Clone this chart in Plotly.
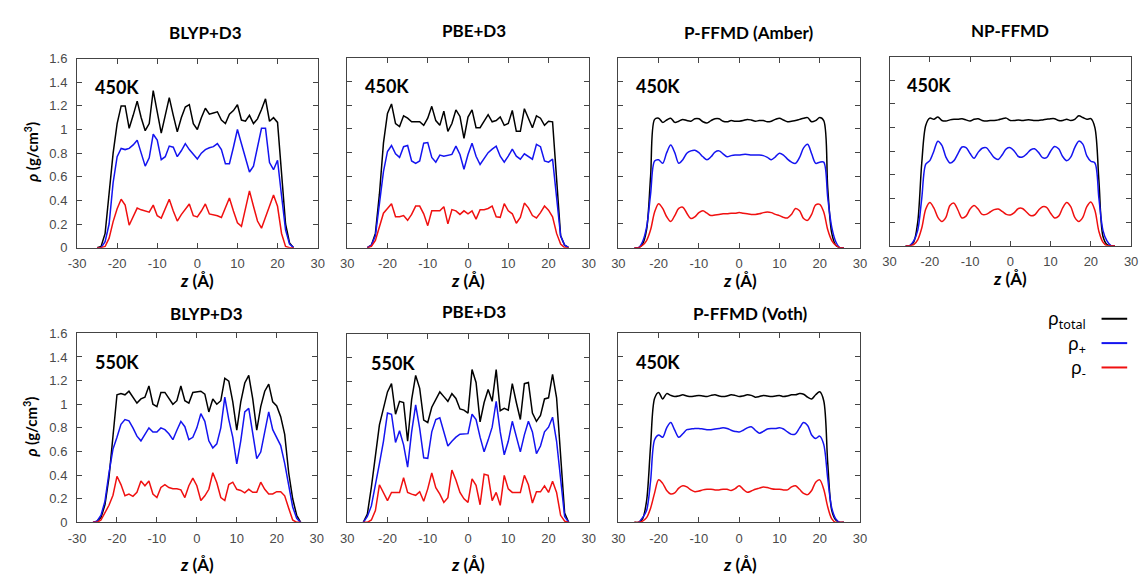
import plotly.graph_objects as go

W, H = 1147, 582

# ---------------- density profiles (z in Å, rho in g/cm^3) ----------------
# BLYP+D3, 450K
z_blyp450 = list(range(-25, 25))
tot_blyp450 = [0, 0.01, 0.12, 0.45, 0.8, 1.05, 1.2, 1.2, 1.01, 1.12, 1.24, 1.1, 0.99, 1.05, 1.33, 1.15, 0.97,
               1.12, 1.27, 1.12, 0.98, 1.1, 1.19, 1.21, 1.05, 1.0, 1.1, 1.18, 1.13, 1.14, 1.15, 1.08, 1.05,
               1.13, 1.16, 1.21, 1.08, 1.07, 1.12, 1.05, 1.09, 1.17, 1.26, 1.07, 1.1, 1.06, 0.62, 0.2, 0.04, 0]
pos_blyp450 = [0, 0, 0.05, 0.2, 0.55, 0.77, 0.84, 0.83, 0.84, 0.87, 0.91, 0.8, 0.69, 0.76, 0.96, 0.91, 0.745,
               0.77, 0.86, 0.85, 0.77, 0.82, 0.88, 0.83, 0.79, 0.75, 0.8, 0.83, 0.845, 0.855, 0.88, 0.83, 0.71,
               0.71, 0.85, 1.0, 0.88, 0.76, 0.64, 0.69, 0.85, 1.01, 1.01, 0.72, 0.66, 0.74, 0.44, 0.15, 0.03, 0]
neg_blyp450 = [0, 0, 0.01, 0.08, 0.22, 0.33, 0.41, 0.36, 0.19, 0.26, 0.335, 0.32, 0.31, 0.30, 0.36, 0.27, 0.25,
               0.33, 0.41, 0.31, 0.225, 0.28, 0.33, 0.37, 0.27, 0.26, 0.31, 0.37, 0.285, 0.28, 0.27, 0.255, 0.34,
               0.42, 0.31, 0.21, 0.18, 0.33, 0.48, 0.35, 0.225, 0.165, 0.26, 0.35, 0.445, 0.35, 0.12, 0.01, 0, 0]

# PBE+D3, 450K
z_pbe450 = list(range(-25, 26))
tot_pbe450 = [0, 0.02, 0.12, 0.45, 0.88, 1.13, 1.21, 1.045, 1.02, 1.11, 1.09, 1.06, 1.06, 1.06, 1.03, 1.09, 1.19,
              1.07, 1.03, 1.15, 0.98, 1.045, 1.16, 1.105, 0.92, 1.10, 1.16, 1.01, 1.01, 1.07, 1.12, 1.06, 1.07,
              1.10, 1.03, 1.045, 1.155, 0.98, 0.98, 1.17, 1.09, 1.01, 1.11, 1.09, 1.03, 1.065, 1.06, 0.55, 0.1,
              0.02, 0]
pos_pbe450 = [0, 0.02, 0.1, 0.36, 0.64, 0.81, 0.86, 0.79, 0.76, 0.85, 0.86, 0.73, 0.71, 0.73, 0.88, 0.885, 0.76,
              0.72, 0.78, 0.77, 0.78, 0.785, 0.855, 0.785, 0.66, 0.785, 0.88, 0.77, 0.70, 0.75, 0.80, 0.83, 0.855,
              0.77, 0.72, 0.77, 0.83, 0.77, 0.745, 0.79, 0.77, 0.745, 0.87, 0.85, 0.73, 0.72, 0.745, 0.42, 0.1,
              0.02, 0]
neg_pbe450 = [0, 0.01, 0.06, 0.17, 0.29, 0.33, 0.37, 0.26, 0.26, 0.27, 0.23, 0.28, 0.35, 0.35, 0.285, 0.185, 0.31,
              0.31, 0.31, 0.345, 0.2, 0.32, 0.31, 0.28, 0.31, 0.285, 0.31, 0.24, 0.32, 0.32, 0.33, 0.35, 0.26,
              0.255, 0.37, 0.31, 0.285, 0.205, 0.255, 0.375, 0.335, 0.27, 0.25, 0.295, 0.35, 0.315, 0.26, 0.12,
              0.03, 0, 0]

# P-FFMD (Amber), 450K
z_amber = list(range(-26, 27))
tot_amber = [0, 0, 0.03, 0.15, 0.6, 1.08, 1.09, 1.055, 1.075, 1.09, 1.055, 1.065, 1.08, 1.07, 1.065, 1.085, 1.085,
             1.06, 1.05, 1.07, 1.085, 1.085, 1.065, 1.06, 1.07, 1.065, 1.065, 1.07, 1.08, 1.075, 1.065, 1.07,
             1.07, 1.06, 1.065, 1.08, 1.09, 1.075, 1.06, 1.065, 1.07, 1.08, 1.09, 1.095, 1.06, 1.07, 1.095, 1.07,
             0.5, 0.12, 0.02, 0, 0]
pos_amber = [0, 0, 0.05, 0.17, 0.45, 0.73, 0.74, 0.71, 0.8, 0.865, 0.8, 0.71, 0.74, 0.795, 0.815, 0.82, 0.80,
             0.765, 0.74, 0.765, 0.805, 0.815, 0.79, 0.765, 0.775, 0.78, 0.78, 0.785, 0.785, 0.78, 0.78, 0.78,
             0.775, 0.76, 0.74, 0.765, 0.795, 0.78, 0.745, 0.72, 0.71, 0.76, 0.84, 0.87, 0.79, 0.71, 0.72, 0.72,
             0.42, 0.17, 0.05, 0, 0]
neg_amber = [0, 0, 0.02, 0.06, 0.15, 0.3, 0.37, 0.33, 0.26, 0.22, 0.27, 0.33, 0.34, 0.29, 0.245, 0.26, 0.295,
             0.31, 0.29, 0.27, 0.275, 0.28, 0.285, 0.285, 0.29, 0.29, 0.295, 0.29, 0.285, 0.28, 0.28, 0.285,
             0.295, 0.30, 0.295, 0.28, 0.27, 0.255, 0.25, 0.28, 0.33, 0.31, 0.245, 0.23, 0.28, 0.36, 0.365, 0.3,
             0.15, 0.06, 0.02, 0, 0]

# NP-FFMD, 450K
z_np = list(range(-26, 27))
tot_np = [0, 0, 0.03, 0.2, 0.7, 1.02, 1.08, 1.07, 1.09, 1.06, 1.055, 1.065, 1.07, 1.07, 1.075, 1.065, 1.055,
          1.07, 1.075, 1.06, 1.055, 1.06, 1.06, 1.065, 1.075, 1.08, 1.06, 1.06, 1.065, 1.06, 1.065, 1.065,
          1.06, 1.06, 1.065, 1.07, 1.075, 1.075, 1.06, 1.06, 1.07, 1.06, 1.07, 1.1, 1.085, 1.07, 1.075, 1.0,
          0.55, 0.08, 0.01, 0, 0]
pos_np = [0, 0, 0.04, 0.13, 0.4, 0.69, 0.72, 0.8, 0.885, 0.85, 0.75, 0.70, 0.72, 0.78, 0.835, 0.83, 0.78,
          0.74, 0.79, 0.825, 0.83, 0.79, 0.745, 0.73, 0.77, 0.82, 0.83, 0.8, 0.755, 0.75, 0.775, 0.81, 0.82,
          0.79, 0.745, 0.745, 0.8, 0.84, 0.82, 0.755, 0.72, 0.75, 0.83, 0.885, 0.86, 0.76, 0.715, 0.7, 0.4,
          0.13, 0.04, 0, 0]
neg_np = [0, 0, 0.01, 0.05, 0.15, 0.31, 0.365, 0.32, 0.24, 0.205, 0.24, 0.34, 0.36, 0.3, 0.235, 0.25, 0.31,
          0.34, 0.31, 0.265, 0.265, 0.285, 0.305, 0.31, 0.29, 0.265, 0.26, 0.28, 0.315, 0.315, 0.285, 0.255,
          0.26, 0.3, 0.33, 0.325, 0.275, 0.235, 0.25, 0.32, 0.365, 0.33, 0.24, 0.205, 0.24, 0.33, 0.37, 0.3,
          0.12, 0.03, 0, 0, 0]

# BLYP+D3, 550K
z_blyp550 = list(range(-26, 27))
tot_blyp550 = [0, 0.01, 0.04, 0.15, 0.38, 0.72, 1.08, 1.09, 1.08, 1.11, 1.055, 1.01, 1.045, 1.06, 1.155, 1.0, 0.98,
               1.10, 1.10, 1.045, 1.0, 1.03, 1.155, 1.03, 1.01, 1.10, 1.105, 1.11, 1.085, 0.935, 1.045, 1.0, 1.03,
               1.22, 1.195, 1.02, 0.78, 1.02, 1.18, 1.245, 1.045, 0.78, 0.98, 1.11, 1.17, 1.02, 0.985, 0.895,
               0.745, 0.42, 0.2, 0.06, 0]
pos_blyp550 = [0, 0.01, 0.06, 0.18, 0.42, 0.62, 0.72, 0.83, 0.87, 0.86, 0.80, 0.73, 0.69, 0.745, 0.80, 0.765,
               0.765, 0.80, 0.785, 0.75, 0.70, 0.78, 0.855, 0.81, 0.70, 0.72, 0.80, 0.92, 0.855, 0.69, 0.63, 0.665,
               0.80, 1.06, 0.87, 0.72, 0.495, 0.69, 0.935, 0.965, 0.77, 0.54, 0.595, 0.77, 0.935, 0.785, 0.72,
               0.65, 0.50, 0.31, 0.13, 0.035, 0]
neg_blyp550 = [0, 0, 0.02, 0.08, 0.145, 0.23, 0.39, 0.32, 0.225, 0.24, 0.22, 0.255, 0.35, 0.31, 0.35, 0.24, 0.21,
               0.295, 0.32, 0.295, 0.285, 0.285, 0.275, 0.21, 0.31, 0.375, 0.31, 0.185, 0.225, 0.28, 0.42, 0.335,
               0.21, 0.185, 0.32, 0.34, 0.28, 0.27, 0.25, 0.28, 0.255, 0.255, 0.34, 0.28, 0.24, 0.24, 0.26, 0.26,
               0.225, 0.12, 0.02, 0, 0]

# PBE+D3, 550K
z_pbe550 = list(range(-26, 26))
tot_pbe550 = [0, 0.07, 0.3, 0.57, 0.83, 0.97, 1.11, 1.18, 0.92, 1.03, 1.02, 0.69, 1.045, 1.25, 1.14, 0.87, 0.85,
              0.98, 1.045, 1.11, 1.07, 1.03, 1.095, 1.055, 0.965, 0.955, 0.93, 1.30, 1.19, 0.855, 1.02, 1.13, 1.03,
              1.30, 0.95, 0.97, 0.955, 1.18, 1.02, 0.875, 1.18, 1.19, 0.93, 0.86, 0.91, 1.05, 1.06, 1.26, 1.06,
              0.55, 0.08, 0]
pos_pbe550 = [0, 0.05, 0.14, 0.31, 0.50, 0.69, 0.93, 0.92, 0.68, 0.78, 0.66, 0.47, 0.77, 1.0, 0.80, 0.55, 0.545,
              0.77, 0.875, 0.89, 0.77, 0.65, 0.69, 0.725, 0.75, 0.755, 0.755, 0.92, 0.875, 0.725, 0.60, 0.70, 0.81,
              1.03, 0.77, 0.575, 0.69, 0.86, 0.73, 0.60, 0.745, 0.86, 0.77, 0.585, 0.65, 0.77, 0.81, 0.895, 0.69,
              0.36, 0.05, 0]
neg_pbe550 = [0, 0, 0.02, 0.1, 0.32, 0.255, 0.185, 0.255, 0.255, 0.255, 0.38, 0.255, 0.24, 0.23, 0.26, 0.18, 0.285,
              0.42, 0.295, 0.24, 0.17, 0.21, 0.445, 0.36, 0.255, 0.20, 0.17, 0.37, 0.315, 0.15, 0.41, 0.40, 0.185,
              0.255, 0.145, 0.40, 0.285, 0.255, 0.255, 0.255, 0.40, 0.32, 0.165, 0.26, 0.26, 0.31, 0.255, 0.35,
              0.255, 0.06, 0.01, 0]

# P-FFMD (Voth), 450K
z_voth = list(range(-26, 27))
tot_voth = [0, 0, 0.03, 0.18, 0.65, 1.05, 1.1, 1.045, 1.09, 1.075, 1.065, 1.07, 1.08, 1.07, 1.065, 1.07, 1.075,
            1.07, 1.065, 1.075, 1.08, 1.07, 1.065, 1.07, 1.08, 1.075, 1.065, 1.07, 1.08, 1.075, 1.06, 1.065,
            1.075, 1.07, 1.065, 1.07, 1.075, 1.065, 1.07, 1.08, 1.08, 1.09, 1.085, 1.06, 1.045, 1.08, 1.105,
            1.03, 0.5, 0.1, 0.02, 0, 0]
pos_voth = [0, 0, 0.04, 0.1, 0.35, 0.7, 0.74, 0.72, 0.8, 0.845, 0.78, 0.72, 0.75, 0.785, 0.79, 0.795, 0.795,
            0.79, 0.785, 0.785, 0.79, 0.795, 0.80, 0.795, 0.78, 0.77, 0.765, 0.78, 0.80, 0.81, 0.78, 0.755,
            0.77, 0.79, 0.795, 0.795, 0.80, 0.79, 0.765, 0.745, 0.75, 0.8, 0.845, 0.82, 0.74, 0.71, 0.73, 0.66,
            0.37, 0.12, 0.03, 0, 0]
neg_voth = [0, 0, 0.01, 0.04, 0.12, 0.25, 0.36, 0.33, 0.27, 0.24, 0.25, 0.29, 0.31, 0.3, 0.275, 0.26, 0.265,
            0.275, 0.28, 0.28, 0.275, 0.275, 0.28, 0.28, 0.27, 0.285, 0.31, 0.28, 0.255, 0.265, 0.28, 0.29,
            0.3, 0.295, 0.285, 0.28, 0.28, 0.275, 0.275, 0.3, 0.31, 0.28, 0.245, 0.235, 0.27, 0.34, 0.36, 0.28,
            0.13, 0.03, 0, 0, 0]

# ---------------- axis ticks ----------------
x_ticks = [-30, -20, -10, 0, 10, 20, 30]
x_labels_full = ["-30", "-20", "-10", "0", "10", "20", "30"]
x_labels_cut = ["30", "-20", "-10", "0", "10", "20", "30"]
y_ticks = [0, 0.2, 0.4, 0.6, 0.8, 1.0, 1.2, 1.4, 1.6]
y_labels = ["0", "0.2", "0.4", "0.6", "0.8", "1", "1.2", "1.4", "1.6"]

# ---------------- panel table ----------------
# box = (left, top, right, bottom) in pixels; title_xy = title centre in pixels
panels = [
    dict(title="BLYP+D3", temp="450K", z=z_blyp450, tot=tot_blyp450, pos=pos_blyp450, neg=neg_blyp450,
         box=(69, 53, 313, 247), title_xy=(199, 26), xt_xy=(191, 281), smooth=False, ylab=True, temp_x=-26.1),
    dict(title="PBE+D3", temp="450K", z=z_pbe450, tot=tot_pbe450, pos=pos_pbe450, neg=neg_pbe450,
         box=(343, 52, 588, 247), title_xy=(472, 24), xt_xy=(466, 281), smooth=False, ylab=False, temp_x=-26.1),
    dict(title="P-FFMD (Amber)", temp="450K", z=z_amber, tot=tot_amber, pos=pos_amber, neg=neg_amber,
         box=(618, 52, 863, 247), title_xy=(750, 26), xt_xy=(741, 281), smooth=True, ylab=False, temp_x=-26.1),
    dict(title="NP-FFMD", temp="450K", z=z_np, tot=tot_np, pos=pos_np, neg=neg_np,
         box=(893, 51, 1138, 245), title_xy=(1015, 24), xt_xy=(1015, 279), smooth=True, ylab=False, temp_x=-26.1),
    dict(title="BLYP+D3", temp="550K", z=z_blyp550, tot=tot_blyp550, pos=pos_blyp550, neg=neg_blyp550,
         box=(69, 335, 312, 529), title_xy=(200, 315), xt_xy=(191, 572), smooth=False, ylab=True, temp_x=-26.1),
    dict(title="PBE+D3", temp="550K", z=z_pbe550, tot=tot_pbe550, pos=pos_pbe550, neg=neg_pbe550,
         box=(343, 336, 588, 529), title_xy=(472, 313), xt_xy=(466, 572), smooth=False, ylab=False, temp_x=-24.6),
    dict(title="P-FFMD (Voth)", temp="450K", z=z_voth, tot=tot_voth, pos=pos_voth, neg=neg_voth,
         box=(618, 335, 863, 529), title_xy=(752, 315), xt_xy=(741, 572), smooth=True, ylab=False, temp_x=-26.1),
]

COL_TOT, COL_POS, COL_NEG = "#000000", "#1414f0", "#f01010"
AXIS_COL = "#444444"
TICK_FONT = dict(family="Liberation Sans, Arial, sans-serif", size=13, color="#4a4a4a")
BOLD_FONT = "Lato, 'Noto Sans', sans-serif"

fig = go.Figure()
layout = dict(
    width=W, height=H, margin=dict(l=0, r=0, t=0, b=0),
    paper_bgcolor="white", plot_bgcolor="white", showlegend=False,
)
annotations = []
shapes = []

for i, p in enumerate(panels, start=1):
    xa = "x" if i == 1 else f"x{i}"
    ya = "y" if i == 1 else f"y{i}"
    shape = "spline" if p["smooth"] else "linear"
    for vals, col in ((p["tot"], COL_TOT), (p["pos"], COL_POS), (p["neg"], COL_NEG)):
        fig.add_trace(go.Scatter(
            x=p["z"], y=vals, mode="lines", xaxis=xa, yaxis=ya,
            line=dict(color=col, width=1.5, shape=shape, smoothing=0.9 if p["smooth"] else None),
            hoverinfo="skip",
        ))
    l, t, r, b = p["box"]
    layout["xaxis" if i == 1 else f"xaxis{i}"] = dict(
        domain=[l / W, r / W], anchor=ya, range=[-30, 30],
        tickmode="array", tickvals=x_ticks,
        ticktext=x_labels_full if p["ylab"] else x_labels_cut,
        ticks="inside", ticklen=5, tickwidth=1, tickcolor=AXIS_COL,
        showline=True, linecolor=AXIS_COL, linewidth=1, mirror="ticks",
        showgrid=False, zeroline=False, tickfont=TICK_FONT, ticklabelstandoff=4,
    )
    layout["yaxis" if i == 1 else f"yaxis{i}"] = dict(
        domain=[1 - b / H, 1 - t / H], anchor=xa, range=[0, 1.6],
        tickmode="array", tickvals=y_ticks, ticktext=y_labels, showticklabels=p["ylab"],
        ticks="inside", ticklen=5, tickwidth=1, tickcolor=AXIS_COL,
        showline=True, linecolor=AXIS_COL, linewidth=1, mirror="ticks",
        showgrid=False, zeroline=False, tickfont=TICK_FONT, ticklabelstandoff=6,
    )
    # panel title
    tx, ty = p["title_xy"]
    annotations.append(dict(
        text=f"<b>{p['title']}</b>", x=tx / W, y=1 - ty / H, xref="paper", yref="paper",
        xanchor="center", yanchor="middle", showarrow=False,
        font=dict(family=BOLD_FONT, size=17, color="black"),
    ))
    # temperature tag
    annotations.append(dict(
        text=f"<b>{p['temp']}</b>", x=p["temp_x"], y=1.36, xref=xa, yref=ya,
        xanchor="left", yanchor="middle", showarrow=False,
        font=dict(family=BOLD_FONT, size=18, color="black"),
    ))
    # x axis title
    xx, xy = p["xt_xy"]
    annotations.append(dict(
        text="<b><i>z</i> (Å)</b>", x=xx / W, y=1 - xy / H, xref="paper", yref="paper",
        xanchor="center", yanchor="middle", showarrow=False,
        font=dict(family=BOLD_FONT, size=17, color="black"),
    ))
    # y axis title on the left-hand panels
    if p["ylab"]:
        cy = (t + b) / 2 - 1
        annotations.append(dict(
            text="<b><i>ρ</i> (g/cm<sup>3</sup>)</b>", x=22 / W, y=1 - cy / H, xref="paper", yref="paper",
            xanchor="center", yanchor="middle", showarrow=False, textangle=-90,
            font=dict(family=BOLD_FONT, size=15, color="black"),
        ))

# legend: labels on the left, line samples on the right
legend_items = [("ρ<sub>total</sub>", COL_TOT, 320), ("ρ<sub>+</sub>", COL_POS, 345), ("ρ<sub>-</sub>", COL_NEG, 370)]
for label, col, ly in legend_items:
    annotations.append(dict(
        text=label, x=1094 / W, y=1 - (ly + 1) / H, xref="paper", yref="paper",
        xanchor="right", yanchor="middle", showarrow=False,
        font=dict(family="'Noto Sans', sans-serif", size=18, color="black"),
    ))
    shapes.append(dict(
        type="line", xref="paper", yref="paper",
        x0=1108 / W, x1=1134 / W, y0=1 - ly / H, y1=1 - ly / H,
        line=dict(color=col, width=2),
    ))

layout["annotations"] = annotations
layout["shapes"] = shapes
fig.update_layout(**layout)
fig.write_html("out.html")
